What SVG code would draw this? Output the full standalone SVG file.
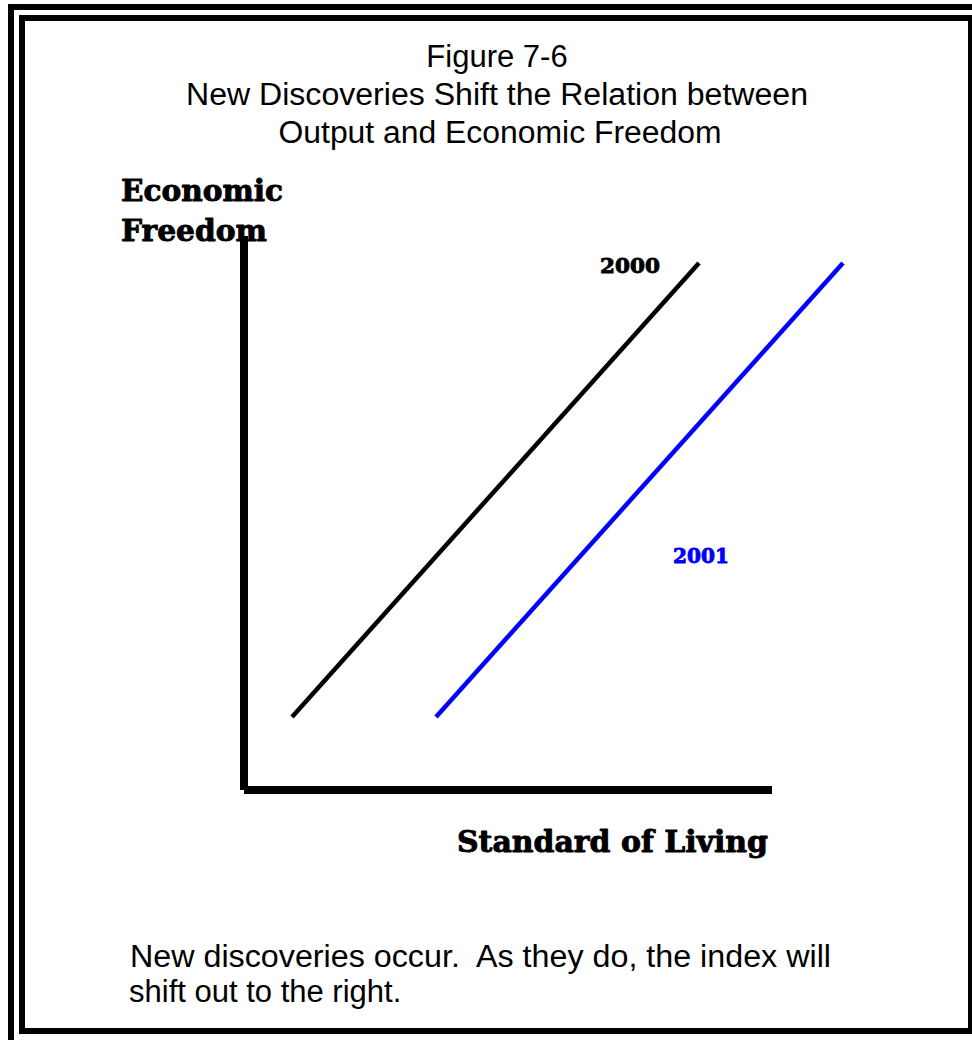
<svg xmlns="http://www.w3.org/2000/svg" width="972" height="1040" viewBox="0 0 972 1040">
<style>
.frame{fill:none;stroke:#000;stroke-width:6}
.title{font-family:"Liberation Sans",Arial,sans-serif;font-size:31px;fill:#000;text-anchor:middle}
.note{font-family:"Liberation Sans",Arial,sans-serif;font-size:31px;fill:#000;white-space:pre}
.lab{font-family:"DejaVu Serif",serif;font-weight:bold;fill:#000;stroke:#000;stroke-width:0.9;stroke-linejoin:round}
.axis{stroke:#000;stroke-width:8;fill:none}
.curve{stroke-width:4.5;fill:none}
</style>
<rect width="972" height="1040" fill="#fff"/>
<g id="frame">
<rect class="frame" x="11" y="7" width="990" height="1060"/>
<rect class="frame" x="22" y="18" width="949" height="1013"/>
</g>
<g id="title">
<text class="title" x="497" y="67">Figure 7-6</text>
<text class="title" x="497" y="105" textLength="622" lengthAdjust="spacingAndGlyphs">New Discoveries Shift the Relation between</text>
<text class="title" x="500" y="143" textLength="443" lengthAdjust="spacingAndGlyphs">Output and Economic Freedom</text>
</g>
<g id="axes">
<line class="axis" x1="244" y1="236" x2="244" y2="790"/>
<line class="axis" x1="244" y1="790" x2="772" y2="790"/>
</g>
<g id="connectors">
<line id="line-2000" class="curve" stroke="#000" x1="292" y1="717" x2="699" y2="263"/>
<line id="line-2001" class="curve" stroke="#0000ff" x1="436" y1="717" x2="843" y2="263"/>
</g>
<g id="label-y">
<text class="lab" x="121" y="201" font-size="29" textLength="162" lengthAdjust="spacingAndGlyphs">Economic</text>
<text class="lab" x="121" y="241" font-size="29" textLength="146" lengthAdjust="spacingAndGlyphs">Freedom</text>
</g>
<g id="label-2000">
<text class="lab" x="600" y="273" font-size="21" textLength="60" lengthAdjust="spacingAndGlyphs">2000</text>
</g>
<g id="label-2001">
<text class="lab" x="673" y="563" font-size="21" style="fill:#0000ff;stroke:#0000ff" textLength="56" lengthAdjust="spacingAndGlyphs">2001</text>
</g>
<g id="label-x">
<text class="lab" x="457" y="852" font-size="29" textLength="311" lengthAdjust="spacingAndGlyphs">Standard of Living</text>
</g>
<g id="note">
<text class="note" x="130" y="967" xml:space="preserve" textLength="701" lengthAdjust="spacingAndGlyphs">New discoveries occur.  As they do, the index will</text>
<text class="note" x="129" y="1002">shift out to the right.</text>
</g>
</svg>
